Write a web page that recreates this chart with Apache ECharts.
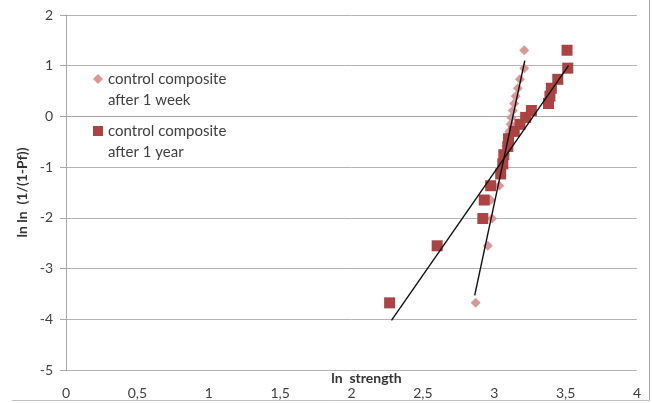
<!DOCTYPE html>
<html><head><meta charset="utf-8">
<script src="https://cdn.jsdelivr.net/npm/echarts@6/dist/echarts.min.js"></script>
<style>html,body{margin:0;padding:0;background:#fff}#c{width:652px;height:403px}</style>
</head><body><div id="c"></div>
<script>
// ln ln (1/(1-Pf)) values (y) and ln strength (x)
const weekX = [2.87, 2.955, 2.985, 2.975, 3.035, 3.045, 3.06, 3.075, 3.085, 3.095, 3.105, 3.115, 3.12, 3.13, 3.14, 3.15, 3.165, 3.18, 3.21, 3.21];
const weekY = [-3.676, -2.551, -2.013, -1.648, -1.367, -1.134, -0.934, -0.755, -0.592, -0.439, -0.295, -0.156, -0.019, 0.117, 0.255, 0.400, 0.556, 0.732, 0.952, 1.305];
const yearX = [2.267, 2.60, 2.92, 2.93, 2.975, 3.045, 3.06, 3.067, 3.095, 3.10, 3.14, 3.18, 3.22, 3.26, 3.38, 3.39, 3.40, 3.445, 3.515, 3.51];
const yearY = [-3.676, -2.551, -2.013, -1.648, -1.367, -1.134, -0.934, -0.755, -0.592, -0.439, -0.295, -0.156, -0.019, 0.117, 0.255, 0.400, 0.556, 0.732, 0.952, 1.305];
// trend line endpoints
const weekTrendX = [2.863, 3.214];
const weekTrendY = [-3.53, 1.10];
const yearTrendX = [2.28, 3.52];
const yearTrendY = [-4.02, 1.00];
const seriesNames = ['control composite after 1 week', 'control composite after 1 year'];
const xTitle = 'ln  strength';
const yTitle = 'ln ln  (1/(1-Pf))';

const zip = (a, b) => a.map((v, i) => [v, b[i]]);
const chart = echarts.init(document.getElementById('c'));
const font = 'Lato, "Open Sans", sans-serif';
const legendText = {fontFamily: font, fontSize: 15, color: '#404040', lineHeight: 21};
const mkLegend = (idx, top, icon) => ({
  orient: 'vertical', left: 93, top: top, padding: 0,
  itemWidth: 10, itemHeight: 10,
  data: [{name: seriesNames[idx], icon: icon}],
  formatter: n => ' \n' + n.replace(' after', '\nafter'),
  textStyle: legendText
});
chart.setOption({
  animation: false,
  grid: {left: 66, right: 15, top: 15, bottom: 33, outerBoundsMode: 'none', containLabel: false},
  legend: [mkLegend(0, 47.5, 'diamond'), mkLegend(1, 99.5, 'rect')],
  xAxis: {
    type: 'value', min: 0, max: 4, interval: 0.5,
    name: xTitle, nameLocation: 'middle', nameGap: 1, nameMoveOverlap: false,
    nameTextStyle: {fontFamily: font, fontSize: 14, fontWeight: 'bold', color: '#333', padding: [0, 0, 0, 30]},
    axisLine: {show: true, lineStyle: {color: '#a6a6a6'}},
    axisTick: {show: false},
    splitLine: {show: false},
    axisLabel: {fontFamily: font, fontSize: 14, color: '#404040', margin: 16, formatter: v => String(v).replace('.', ',')}
  },
  yAxis: {
    type: 'value', min: -5, max: 2, interval: 1,
    name: yTitle, nameLocation: 'middle', nameGap: 37, nameRotate: 90, nameMoveOverlap: false,
    nameTextStyle: {fontFamily: font, fontSize: 14, fontWeight: 'bold', color: '#333'},
    axisLine: {show: true, onZero: false, lineStyle: {color: '#a6a6a6'}},
    axisTick: {show: true, inside: false, length: 6, lineStyle: {color: '#a6a6a6'}},
    splitLine: {show: true, lineStyle: {color: '#b3b3b3', width: 1}},
    axisLabel: {fontFamily: font, fontSize: 14, color: '#404040', margin: 13}
  },
  graphic: [
    {type: 'line', shape: {x1: 12, y1: 400.5, x2: 649.5, y2: 400.5}, style: {stroke: '#bfbfbf', lineWidth: 1}},
    {type: 'line', shape: {x1: 649.5, y1: 0, x2: 649.5, y2: 400.5}, style: {stroke: '#a6a6a6', lineWidth: 1}}
  ],
  series: [
    {name: seriesNames[0], type: 'scatter', symbol: 'diamond', symbolSize: 10, data: zip(weekX, weekY), itemStyle: {color: '#d99795', opacity: 1}, z: 2},
    {name: seriesNames[1], type: 'scatter', symbol: 'rect', symbolSize: 11, data: zip(yearX, yearY), itemStyle: {color: '#aa4341', opacity: 1}, z: 3},
    {type: 'line', data: zip(weekTrendX, weekTrendY), symbol: 'none', lineStyle: {color: '#111', width: 1.4}, z: 4, silent: true},
    {type: 'line', data: zip(yearTrendX, yearTrendY), symbol: 'none', lineStyle: {color: '#111', width: 1.4}, z: 4, silent: true}
  ]
});
</script></body></html>
